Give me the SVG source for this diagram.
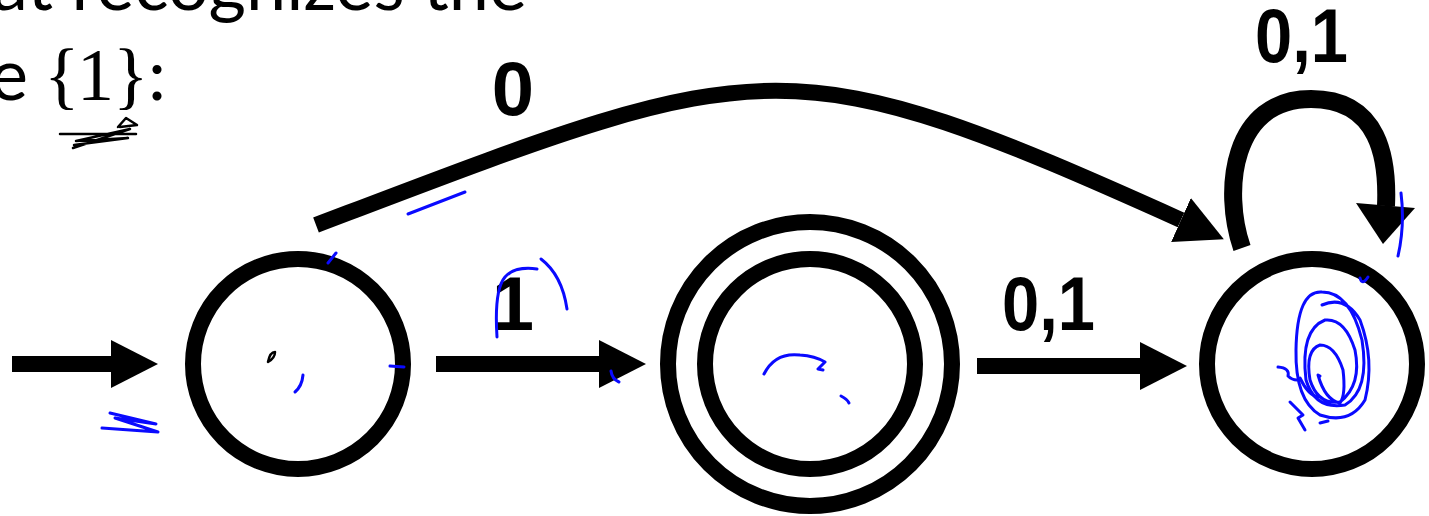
<svg xmlns="http://www.w3.org/2000/svg" width="1429" height="516" viewBox="0 0 1429 516">
<style>
.st{fill:none;stroke:#000;stroke-width:16}
.edge{fill:none;stroke:#000;stroke-width:16;stroke-linecap:butt}
.lbl{font-family:"Liberation Sans",Arial,sans-serif;font-weight:bold;font-size:76px;fill:#000}
.txt{font-family:Lato,"Liberation Sans",sans-serif;font-size:72px;fill:#000}
.math{font-family:"Liberation Serif","DejaVu Serif",serif;font-size:74px;fill:#000}
.ink{fill:none;stroke:#0a0aff;stroke-width:3;stroke-linecap:round;stroke-linejoin:round}
.pen{fill:none;stroke:#000;stroke-width:2.5;stroke-linecap:round;stroke-linejoin:round}
</style>
<defs>
<marker id="ah" markerUnits="userSpaceOnUse" markerWidth="47" markerHeight="48" refX="0" refY="24" orient="auto" viewBox="0 0 47 48">
<path d="M0,0 L47,24 L0,48 Z" fill="#000"/>
</marker>
</defs>
<rect width="1429" height="516" fill="#fff"/>

<g id="heading">
<text class="txt" x="527" y="10" text-anchor="end">that recognizes the</text>
<text class="txt" x="28" y="100" text-anchor="end">e</text>
<text class="math" x="44" y="100">{</text>
<text class="math" x="77" y="100">1</text>
<text class="math" x="113" y="100">}</text>
<text class="txt" x="148" y="100">:</text>
<path class="pen" d="M60,134 L136,134 M73,148 L130,129 L76,141 L128,138 L74,145 M118,127 L126,118 L137,125 L120,127"/>
</g>

<g id="q0">
<circle cx="298" cy="364" r="105" class="st"/>
</g>
<g id="q1">
<circle cx="810" cy="364" r="142" class="st"/>
<circle cx="810" cy="364" r="105" class="st"/>
</g>
<g id="q2">
<circle cx="1312" cy="364" r="105" class="st"/>
</g>

<g id="connectors">
<line class="edge" x1="12" y1="364" x2="111" y2="364" marker-end="url(#ah)"/>
<line class="edge" x1="436" y1="364" x2="599" y2="364" marker-end="url(#ah)"/>
<line class="edge" x1="977" y1="366" x2="1140" y2="366" marker-end="url(#ah)"/>
<path class="edge" d="M316,225 C766,54 781,40 1181,220" marker-end="url(#ah)"/>
<path class="edge" style="stroke-width:18" d="M1242,248 C1222,190 1232,99 1311,99 C1380,99 1388,160 1386,206"/>
<polygon points="1356,203 1415,208 1383,244" fill="#000"/>
<text class="lbl" x="513" y="115" text-anchor="middle">0</text>
<text class="lbl" x="513" y="330" text-anchor="middle">1</text>
<text class="lbl" x="1002" y="330" textLength="93" lengthAdjust="spacingAndGlyphs">0,1</text>
<text class="lbl" x="1255" y="62" textLength="93" lengthAdjust="spacingAndGlyphs">0,1</text>
</g>

<g id="annotations">
<path class="ink" d="M408,214 L465,192"/>
<path class="ink" d="M328,263 L336,253"/>
<path class="ink" d="M303,375 Q302,386 295,392"/>
<path class="ink" d="M390,366 L404,367"/>
<path class="pen" d="M268,362 Q270,352 275,352 Q275,358 268,362 Z"/>
<path class="ink" d="M110,413 L156,424 L115,418 L158,432 L102,428"/>
<path class="ink" d="M497,337 Q494,290 505,277 Q515,266 537,269"/>
<path class="ink" d="M541,259 Q562,275 567,309"/>
<path class="ink" d="M611,371 Q612,379 619,382"/>
<path class="ink" d="M764,374 Q775,352 800,355 Q815,356 825,362 L818,369 L823,370"/>
<path class="ink" d="M841,396 Q847,399 849,403"/>
<path class="ink" d="M1401,193 Q1405,225 1398,256"/>
<path class="ink" d="M1360,278 Q1362,286 1368,277"/>
<path class="ink" d="M1322,305 Q1345,295 1360,320 Q1375,360 1365,400 Q1350,425 1320,415 Q1295,400 1296,350 Q1297,290 1322,292 Q1350,292 1362,340 Q1370,390 1345,405 Q1315,410 1306,380 Q1300,330 1325,320 Q1345,318 1355,350 Q1362,385 1340,402 Q1318,405 1310,380 Q1305,350 1320,345 Q1335,345 1343,370 Q1346,395 1340,403 Q1325,400 1318,375 L1320,376"/>
<path class="ink" d="M1278,367 Q1290,368 1288,376 Q1292,380 1297,380"/>
<path class="ink" d="M1290,402 L1303,415 L1298,418 L1305,430"/>
<path class="ink" d="M1300,378 Q1308,395 1318,397"/>
<path class="ink" d="M1320,423 L1328,421"/>
</g>
</svg>
